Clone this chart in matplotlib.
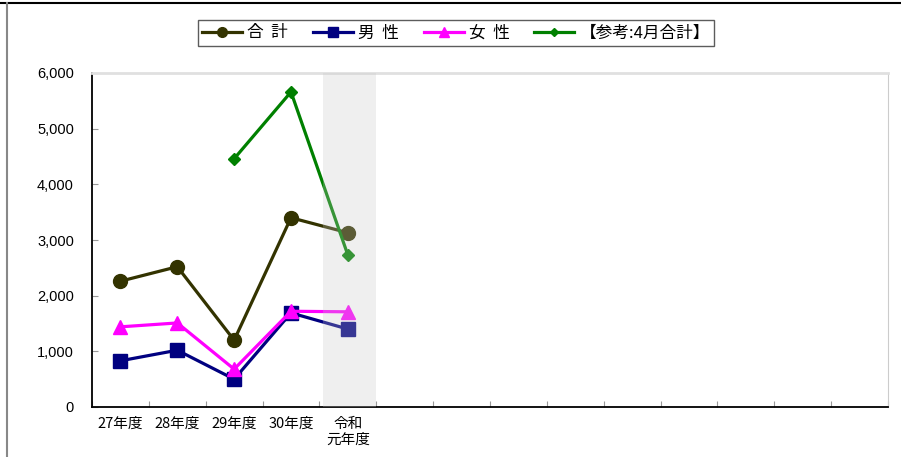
import matplotlib
matplotlib.use('Agg')
import matplotlib.pyplot as plt
from matplotlib.lines import Line2D
import numpy as np

plt.rcParams['font.family'] = ['Noto Sans CJK JP', 'DejaVu Sans']

categories = ['27年度', '28年度', '29年度', '30年度', '令和\n元年度']
n_slots = 14

total = [2260, 2520, 1200, 3400, 3130]
male = [830, 1020, 500, 1690, 1400]
female = [1440, 1510, 680, 1720, 1710]
april_x = [2, 3, 4]
april_total = [4460, 5660, 2730]

fig = plt.figure(figsize=(9.01, 4.57), dpi=100)
ax = fig.add_axes([92 / 901, 1 - 407 / 457, (888 - 92) / 901, (407 - 73) / 457])

x = np.arange(len(categories))
ax.plot(x, total, color='#333300', lw=2.3, marker='o', ms=10, label='合  計', zorder=3)
ax.plot(x, male, color='#000080', lw=2.3, marker='s', ms=10, label='男  性', zorder=3)
ax.plot(x, female, color='#ff00ff', lw=2.3, marker='^', ms=10, label='女  性', zorder=3)
ax.plot(april_x, april_total, color='#008000', lw=2.3, marker='D', ms=6.5,
        label='【参考:4月合計】', zorder=4)

# shaded current year
ax.axvspan(3.56, 4.5, facecolor='#c8c8c8', alpha=0.28, lw=0, zorder=5)

ax.set_xlim(-0.5, n_slots - 0.5)
ax.set_ylim(0, 6000)
ax.set_yticks(np.arange(0, 6001, 1000))
ax.set_yticklabels([f'{v:,}' for v in range(0, 6001, 1000)], fontsize=10.5,
                   family='Liberation Sans')
ax.set_xticks(np.arange(-0.5, n_slots, 1))
ax.set_xticklabels([])
ax.set_xticks(x, minor=True)
ax.set_xticklabels(categories, minor=True, fontsize=10.5)
ax.tick_params(axis='x', which='minor', length=0, pad=7)
ax.tick_params(axis='both', which='major', direction='in', color='#999999', length=4)
ax.tick_params(axis='y', pad=13)

ax.spines['left'].set_color('black')
ax.spines['bottom'].set_color('black')
ax.spines['left'].set_linewidth(1.3)
ax.spines['bottom'].set_linewidth(1.3)
ax.spines['top'].set_color('#e0e0e0')
ax.spines['top'].set_linewidth(2)
ax.spines['right'].set_color('#cccccc')

leg = fig.legend(loc='upper center', bbox_to_anchor=(456 / 901, 1 - 12 / 457), ncol=4,
                 fontsize=12, frameon=True, fancybox=False, edgecolor='#333333',
                 handlelength=2.4, columnspacing=1.5, handletextpad=0.3,
                 markerscale=0.7, borderpad=0.25)
leg.get_frame().set_linewidth(1.0)

# outer border of the chart area
fig.add_artist(Line2D([0, 1], [1 - 3 / 457, 1 - 3 / 457], color='black', lw=1.5))
fig.add_artist(Line2D([7 / 901, 7 / 901], [0, 1 - 3 / 457], color='#888888', lw=1.5))

fig.savefig('out.png', dpi=100)
